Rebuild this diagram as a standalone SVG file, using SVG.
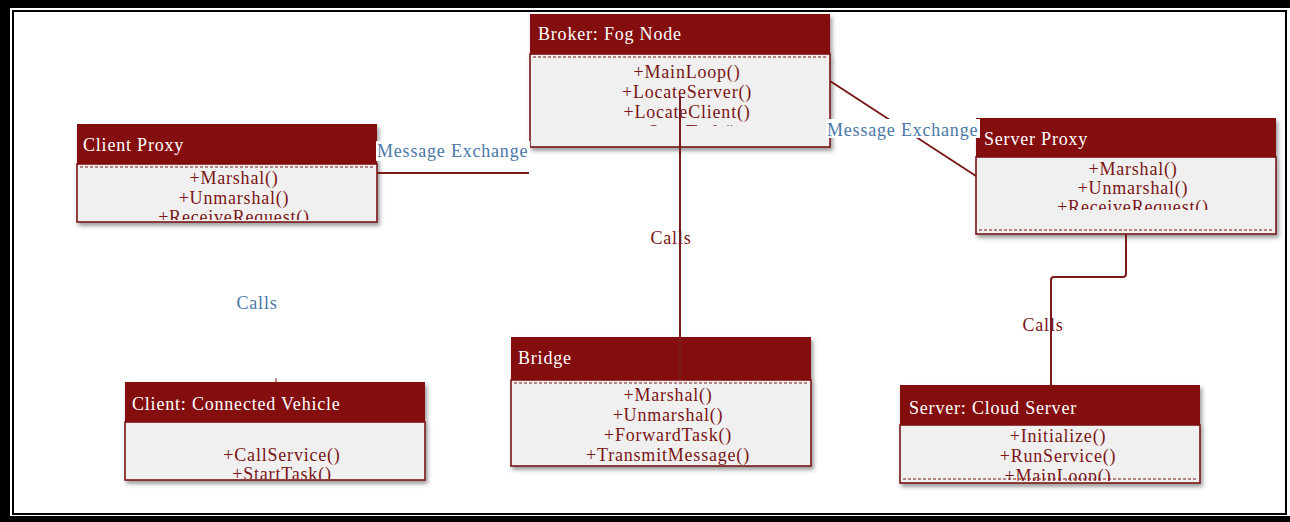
<svg xmlns="http://www.w3.org/2000/svg" width="1290" height="522" viewBox="0 0 1290 522">
<style>
.hdr{fill:#841010;}
.body{fill:#f0f0f0;stroke:#7a1414;stroke-width:1.6;}
.dash{stroke:#7a1414;stroke-width:1;stroke-dasharray:3 2;fill:none;}
text{font-family:"Liberation Serif","Times New Roman",serif;font-size:18px;letter-spacing:0.8px;}
.ht{fill:#ffffff;}
.mt{fill:#7a1515;text-anchor:middle;}
.lbl{fill:#4a78a8;}
.calls{fill:#7a1515;text-anchor:middle;}
.conn{stroke:#7a1a1a;stroke-width:2;fill:none;stroke-linejoin:round;}
.bg{fill:#ffffff;}
</style>
<defs>
<filter id="sh" x="-5%" y="-10%" width="115%" height="130%">
<feDropShadow dx="2" dy="3" stdDeviation="2" flood-color="#444" flood-opacity="0.55"/>
</filter>
<clipPath id="cBroker"><rect x="530" y="54" width="300" height="72"/></clipPath>
<clipPath id="cClientProxy"><rect x="77" y="164" width="300" height="56"/></clipPath>
<clipPath id="cServerProxy"><rect x="976" y="157" width="300" height="53"/></clipPath>
<clipPath id="cClientCV"><rect x="125" y="422" width="300" height="57"/></clipPath>
<clipPath id="cCloud"><rect x="900" y="425" width="300" height="56"/></clipPath>
</defs>
<rect x="0" y="0" width="1290" height="522" fill="#ffffff"/>
<g id="frame">
<rect x="0" y="0" width="1290" height="8" fill="#000"/>
<rect x="0" y="0" width="10" height="522" fill="#000"/>
<rect x="0" y="516" width="1290" height="6" fill="#000"/>
<rect x="13" y="11" width="1273" height="503" fill="none" stroke="#000" stroke-width="2"/>
</g>

<g id="broker">
<g filter="url(#sh)">
<rect class="body" x="530" y="54" width="300" height="93"/>
<rect class="hdr" x="530" y="14" width="300" height="40"/>
</g>
<line class="dash" x1="533" y1="57" x2="827" y2="57"/>
<text class="ht" x="538" y="40">Broker: Fog Node</text>
<g clip-path="url(#cBroker)">
<text class="mt" x="687" y="78">+MainLoop()</text>
<text class="mt" x="687" y="98">+LocateServer()</text>
<text class="mt" x="687" y="118">+LocateClient()</text>
<text class="mt" x="687" y="138">+StartTask()</text>
</g>
</g>

<g id="clientProxy">
<g filter="url(#sh)">
<rect class="body" x="77" y="164" width="300" height="58"/>
<rect class="hdr" x="77" y="124" width="300" height="40"/>
</g>
<line class="dash" x1="80" y1="167" x2="374" y2="167"/>
<text class="ht" x="83" y="151">Client Proxy</text>
<g clip-path="url(#cClientProxy)">
<text class="mt" x="234" y="184">+Marshal()</text>
<text class="mt" x="234" y="204">+Unmarshal()</text>
<text class="mt" x="234" y="223">+ReceiveRequest()</text>
</g>
</g>

<g id="serverProxy">
<g filter="url(#sh)">
<rect class="body" x="976" y="157" width="300" height="77"/>
<rect class="hdr" x="976" y="118" width="300" height="39"/>
</g>
<line class="dash" x1="979" y1="230" x2="1273" y2="230"/>
<text class="ht" x="984" y="145">Server Proxy</text>
<g clip-path="url(#cServerProxy)">
<text class="mt" x="1133" y="175">+Marshal()</text>
<text class="mt" x="1133" y="194">+Unmarshal()</text>
<text class="mt" x="1133" y="213">+ReceiveRequest()</text>
</g>
</g>

<g id="clientVehicle">
<g filter="url(#sh)">
<rect class="body" x="125" y="422" width="300" height="58"/>
<rect class="hdr" x="125" y="382" width="300" height="40"/>
</g>
<text class="ht" x="132" y="410">Client: Connected Vehicle</text>
<g clip-path="url(#cClientCV)">
<text class="mt" x="282" y="461">+CallService()</text>
<text class="mt" x="282" y="480">+StartTask()</text>
</g>
</g>

<g id="bridge">
<g filter="url(#sh)">
<rect class="body" x="511" y="380" width="300" height="86"/>
<rect class="hdr" x="511" y="337" width="300" height="43"/>
</g>
<line class="dash" x1="514" y1="383" x2="808" y2="383"/>
<text class="ht" x="518" y="364">Bridge</text>
<text class="mt" x="668" y="401">+Marshal()</text>
<text class="mt" x="668" y="421">+Unmarshal()</text>
<text class="mt" x="668" y="441">+ForwardTask()</text>
<text class="mt" x="668" y="461">+TransmitMessage()</text>
</g>

<g id="cloudServer">
<g filter="url(#sh)">
<rect class="body" x="900" y="425" width="300" height="58"/>
<rect class="hdr" x="900" y="385" width="300" height="40"/>
</g>
<text class="ht" x="909" y="414">Server: Cloud Server</text>
<g clip-path="url(#cCloud)">
<text class="mt" x="1058" y="442">+Initialize()</text>
<text class="mt" x="1058" y="462">+RunService()</text>
<text class="mt" x="1058" y="482">+MainLoop()</text>
</g>
<line class="dash" x1="903" y1="479" x2="1197" y2="479"/>
</g>

<g id="connectors">
<line class="conn" x1="377" y1="173" x2="529" y2="173"/>
<rect class="bg" x="376" y="141" width="154" height="20"/>
<text class="lbl" x="377" y="157">Message Exchange</text>

<line class="conn" x1="830" y1="81" x2="976" y2="176"/>
<rect class="bg" x="826" y="119" width="154" height="19"/>
<text class="lbl" x="827" y="136">Message Exchange</text>

<line class="conn" x1="680" y1="96" x2="680" y2="380"/>
<text class="calls" x="671" y="244">Calls</text>

<path class="conn" d="M1126,234 V274 Q1126,277 1123,277 H1054 Q1051,277 1051,280 V385"/>
<text class="calls" x="1043" y="331">Calls</text>

<line x1="276" y1="378" x2="276" y2="382" stroke="#7a1a1a" stroke-width="1"/>
<text class="lbl" x="257" y="309" text-anchor="middle">Calls</text>
</g>
</svg>
